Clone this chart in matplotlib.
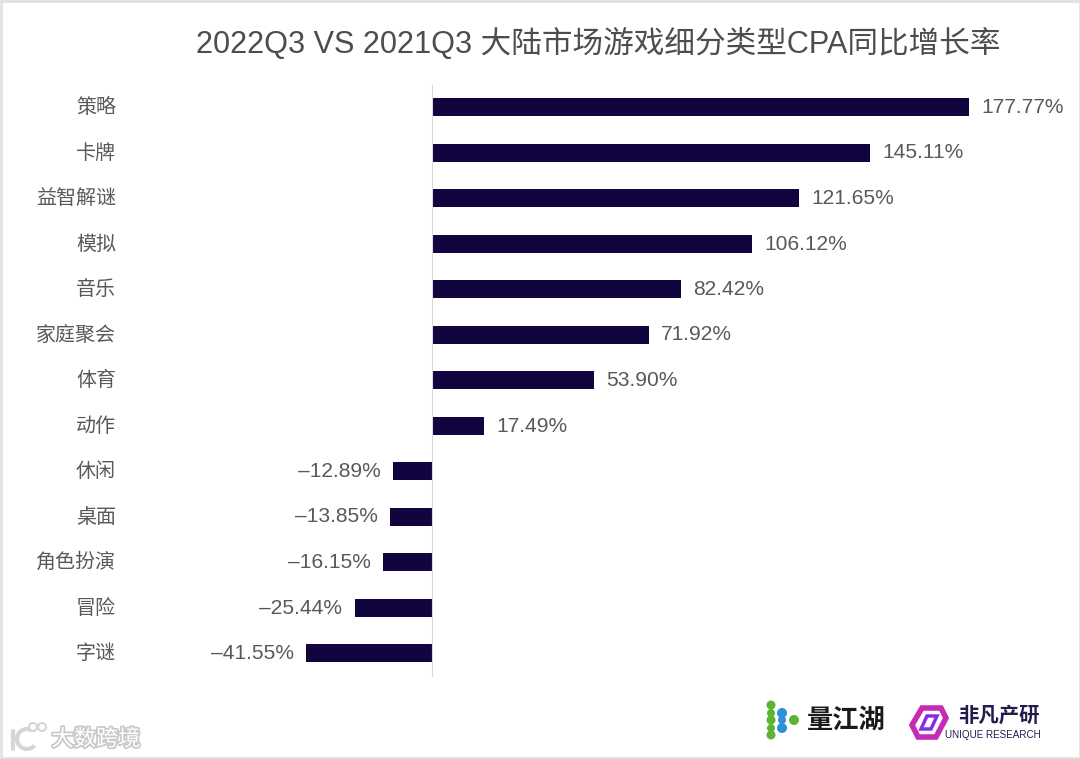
import matplotlib
matplotlib.use('Agg')
import matplotlib.pyplot as plt
import matplotlib.patheffects as pe
from matplotlib.patches import Arc, Circle, Polygon, Rectangle

plt.rcParams['font.family'] = ['Liberation Sans', 'Noto Sans CJK SC', 'DejaVu Sans']

# === DATI ===
categories = ['策略', '卡牌', '益智解谜', '模拟', '音乐', '家庭聚会', '体育', '动作',
              '休闲', '桌面', '角色扮演', '冒险', '字谜']
values = [177.77, 145.11, 121.65, 106.12, 82.42, 71.92, 53.90, 17.49,
          -12.89, -13.85, -16.15, -25.44, -41.55]
title = '2022Q3 VS 2021Q3 大陆市场游戏细分类型CPA同比增长率'

W, H = 1080, 759
BAR_COLOR = '#12043f'
TEXT_COLOR = '#595959'

fig = plt.figure(figsize=(W / 100, H / 100), dpi=100, facecolor='white')

# Asse principale: 3.024 px per punto percentuale, 45.5 px per categoria
ax = fig.add_axes([0, 0, 1, 1])
px_per_unit = 3.024
x0 = 431.5
ax.set_xlim(-x0 / px_per_unit, (W - x0) / px_per_unit)
y_step = 45.5
y_first = 107
ax.set_ylim((H - y_first) / y_step, -y_first / y_step)
ax.axis('off')

ypos = list(range(len(categories)))
ax.barh(ypos, values, height=18 / y_step, color=BAR_COLOR, linewidth=0)
ax.axvline(0, ymin=(H - 676) / H, ymax=(H - 85) / H, color='#d8d8d8', lw=0.8, zorder=3)

text_dy = 0.5 / y_step
for y, cat, v in zip(ypos, categories, values):
    ax.text((116 - x0) / px_per_unit, y + text_dy, cat, ha='right', va='center',
            fontsize=14.4, color=TEXT_COLOR)
    label = f'{v:.2f}%'.replace('-', '–')
    if v >= 0:
        ax.text(v + 4.0, y + text_dy, label, ha='left', va='center', fontsize=15.1, color=TEXT_COLOR)
    else:
        ax.text(v - 4.0, y + text_dy, label, ha='right', va='center', fontsize=15.1, color=TEXT_COLOR)

fig.text(598.5 / W, 1 - 44 / H, title, ha='center', va='center', fontsize=22.05, color='#4d4d4d')

# Overlay in pixel per cornice e loghi
ov = fig.add_axes([0, 0, 1, 1])
ov.set_xlim(0, W)
ov.set_ylim(H, 0)
ov.axis('off')
ov.patch.set_alpha(0)

# Cornice chiara
ov.add_patch(Rectangle((0.5, 0.5), W - 1, H - 1.5, fill=False, ec='#e2e2e2', lw=2))

# Logo 量江湖
GREEN = '#5cb531'
BLUE = '#2f8fd8'
for cx, cy, r, c in [(771, 705, 4.5, GREEN), (771, 713, 4, GREEN), (771, 720, 4.5, GREEN),
                     (771, 728, 4, GREEN), (771, 735, 4.5, GREEN), (782, 713, 5, BLUE),
                     (782, 720, 4, BLUE), (782, 728, 5, BLUE), (794, 720, 5, GREEN)]:
    ov.add_patch(Circle((cx, cy), r, fc=c, ec='none'))
ov.text(846, 720, '量江湖', ha='center', va='center', fontsize=18.9, fontweight='bold', color='#1a1a1a')

# Logo 非凡产研
ov.add_patch(Polygon([(922, 708), (941, 708), (946, 718), (936, 737), (918, 737), (912, 725)],
                     closed=True, fc='none', ec='#c62bb4', lw=4))
ov.add_patch(Polygon([(927, 716), (937, 716), (931, 729), (921, 729)],
                     closed=True, fc='none', ec='#8a2be2', lw=2.5))
ov.text(999, 716, '非凡产研', ha='center', va='center', fontsize=14.7, fontweight='bold', color='#241a4d')
ov.text(993, 735, 'UNIQUE RESEARCH', ha='center', va='center', fontsize=7.1, color='#241a4d')

# Filigrana
halo = [pe.withStroke(linewidth=2.5, foreground='#c9c9c9')]
ov.text(96, 740, '大数跨境', ha='center', va='center', fontsize=16, color='white', path_effects=halo)
ov.plot([13, 13], [731, 749], color='#d6d6d6', lw=3, solid_capstyle='round')
ov.add_patch(Arc((27, 739), 20, 20, theta1=40, theta2=300, ec='#d6d6d6', lw=3))
ov.add_patch(Circle((33, 727), 4, fc='white', ec='#d6d6d6', lw=1.5))
ov.add_patch(Circle((42, 727), 4, fc='white', ec='#d6d6d6', lw=1.5))

fig.savefig('out.png', dpi=100, facecolor='white')
